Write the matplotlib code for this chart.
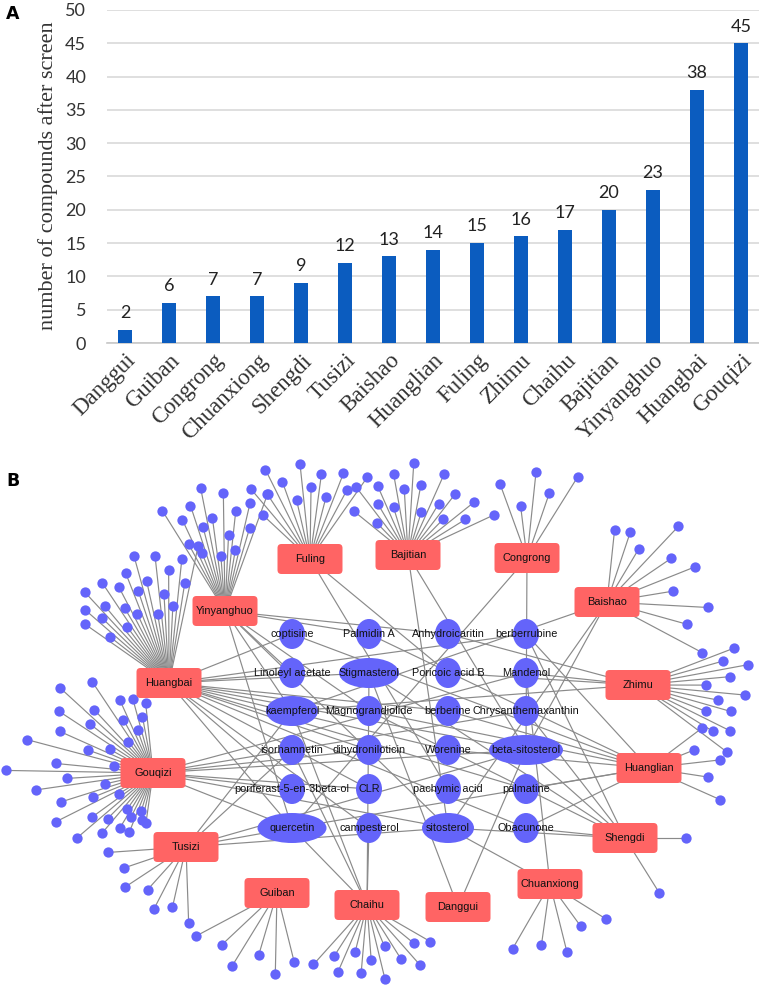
import numpy as np
import matplotlib
matplotlib.use('Agg')
import matplotlib.pyplot as plt
from matplotlib.patches import Ellipse, FancyBboxPatch
from matplotlib.collections import LineCollection

# ---- panel A data ----
herbs = ['Danggui', 'Guiban', 'Congrong', 'Chuanxiong', 'Shengdi', 'Tusizi', 'Baishao',
         'Huanglian', 'Fuling', 'Zhimu', 'Chaihu', 'Bajitian', 'Yinyanghuo', 'Huangbai', 'Gouqizi']
n_compounds = [2, 6, 7, 7, 9, 12, 13, 14, 15, 16, 17, 20, 23, 38, 45]

# ---- panel B data: shared compounds (grid rows) and herb -> compound links ----
compound_rows = [
    ['coptisine', 'Palmidin A', 'Anhydroicaritin', 'berberrubine'],
    ['Linoleyl acetate', 'Stigmasterol', 'Poricoic acid B', 'Mandenol'],
    ['kaempferol', 'Magnograndiolide', 'berberine', 'Chrysanthemaxanthin'],
    ['isorhamnetin', 'dihydroniloticin', 'Worenine', 'beta-sitosterol'],
    ['poriferast-5-en-3beta-ol', 'CLR', 'pachymic acid', 'palmatine'],
    ['quercetin', 'campesterol', 'sitosterol', 'Obacunone'],
]
shared = {
    'Danggui': ['Stigmasterol', 'beta-sitosterol'],
    'Guiban': [],
    'Congrong': ['beta-sitosterol', 'quercetin'],
    'Chuanxiong': ['Mandenol', 'sitosterol'],
    'Shengdi': ['beta-sitosterol', 'Stigmasterol', 'sitosterol', 'Chrysanthemaxanthin',
                'Obacunone', 'berberrubine', 'Magnograndiolide'],
    'Tusizi': ['quercetin', 'kaempferol', 'isorhamnetin', 'beta-sitosterol', 'sitosterol'],
    'Baishao': ['kaempferol', 'beta-sitosterol', 'sitosterol'],
    'Huanglian': ['berberine', 'palmatine', 'coptisine', 'Worenine', 'berberrubine',
                  'Obacunone', 'quercetin', 'Magnograndiolide', 'Palmidin A'],
    'Fuling': ['pachymic acid', 'Poricoic acid B'],
    'Zhimu': ['Anhydroicaritin', 'Mandenol', 'Poricoic acid B', 'kaempferol'],
    'Chaihu': ['quercetin', 'kaempferol', 'isorhamnetin', 'Stigmasterol', 'campesterol'],
    'Bajitian': ['beta-sitosterol', 'sitosterol'],
    'Yinyanghuo': ['quercetin', 'kaempferol', 'Anhydroicaritin', 'Linoleyl acetate',
                   'Magnograndiolide', 'Palmidin A', 'sitosterol'],
    'Huangbai': ['berberine', 'palmatine', 'coptisine', 'Worenine', 'berberrubine', 'Obacunone',
                 'Magnograndiolide', 'beta-sitosterol', 'Stigmasterol', 'campesterol',
                 'poriferast-5-en-3beta-ol', 'dihydroniloticin', 'Linoleyl acetate', 'CLR',
                 'quercetin'],
    'Gouqizi': ['quercetin', 'beta-sitosterol', 'sitosterol', 'CLR', 'Mandenol',
                'Chrysanthemaxanthin', 'poriferast-5-en-3beta-ol', 'dihydroniloticin'],
}

# ---- network layout (pixel space of the figure) ----
herb_pos = {
    'Fuling': (310, 559), 'Yinyanghuo': (225, 611), 'Huangbai': (169, 683),
    'Bajitian': (408, 555), 'Congrong': (527, 558), 'Baishao': (607, 602),
    'Zhimu': (638, 685), 'Gouqizi': (153, 773), 'Tusizi': (186, 847),
    'Guiban': (277, 893), 'Chaihu': (367, 905), 'Danggui': (458, 907),
    'Chuanxiong': (550, 884), 'Shengdi': (625, 838), 'Huanglian': (649, 768),
}
grid_x = [292, 369, 448, 526]
grid_y = [634, 673, 711, 750, 789, 828]
wide = {'Stigmasterol': 60, 'kaempferol': 52, 'beta-sitosterol': 74,
        'quercetin': 69, 'sitosterol': 52}
# leaf fan: start angle, end angle (deg, y up), min radius, (angle, max radius) control points
fans = {
    'Fuling': (55, 137, 60, [(55, 100), (137, 100)]),
    'Yinyanghuo': (70, 122, 55, [(70, 125), (122, 125)]),
    'Huangbai': (78, 145, 70, [(78, 140), (145, 120)]),
    'Gouqizi': (96, 262, 40, [(96, 70), (125, 120), (180, 148), (262, 50)]),
    'Tusizi': (184, 272, 55, [(184, 78), (272, 78)]),
    'Guiban': (208, 284, 62, [(208, 92), (284, 92)]),
    'Chaihu': (228, 330, 45, [(228, 80), (330, 80)]),
    'Chuanxiong': (240, 328, 50, [(240, 75), (328, 75)]),
    'Shengdi': (-58, 0, 58, [(-58, 65), (0, 65)]),
    'Huanglian': (-24, 37, 45, [(-24, 78), (37, 78)]),
    'Zhimu': (-37, 21, 68, [(-37, 112), (21, 112)]),
    'Baishao': (-28, 84, 62, [(-28, 108), (40, 115), (84, 72)]),
    'Bajitian': (25, 141, 45, [(25, 95), (141, 90)]),
    'Congrong': (58, 110, 47, [(58, 96), (110, 96)]),
    'Danggui': (0, 0, 0, [(0, 0), (1, 0)]),
}
radial = [1.0, 0.45, 0.8, 0.1, 0.65, 0.3, 0.9, 0.0, 0.55]

W, H = 759, 992
fig = plt.figure(figsize=(W / 100, H / 100), dpi=100)

# ================= A: bar chart =================
ax = fig.add_axes([107 / W, 1 - 343 / H, 652 / W, 333 / H])
x = np.arange(len(herbs))
ax.bar(x, n_compounds, width=0.33, color='#0b5cbf', zorder=3)
for xi, v in zip(x, n_compounds):
    ax.text(xi, v + 1.3, str(v), ha='center', va='bottom', fontsize=13,
            family='Lato', color='#222222')
ax.set_xlim(-0.41, 14.41)
ax.set_ylim(0, 50)
ax.set_yticks(range(0, 51, 5))
ax.yaxis.grid(True, color='#d9d9d9', lw=1.2, zorder=0)
for s in ['top', 'right', 'left']:
    ax.spines[s].set_visible(False)
ax.spines['bottom'].set_color('#c8c8c8')
ax.spines['bottom'].set_linewidth(1.2)
ax.tick_params(axis='both', length=0)
ax.tick_params(axis='y', pad=15, labelsize=13, labelcolor='#333333')
for lab in ax.get_yticklabels():
    lab.set_family('Lato')
ax.set_xticks(x)
ax.set_xticklabels(herbs, rotation=45, ha='right', va='top', rotation_mode='anchor',
                   family='Liberation Serif', fontsize=16.5, color='#333333')
ax.tick_params(axis='x', pad=5)
fig.text(48 / W, 1 - 176 / H, 'number of compounds after screen', rotation=90,
         ha='center', va='center', family='Liberation Serif', fontsize=16, color='#333333')
fig.text(13 / W, 1 - 14 / H, 'A', ha='center', va='center', fontsize=12.5, weight='bold')

# ================= B: network =================
nx = fig.add_axes([0, 0, 1, 1])
nx.set_xlim(0, W)
nx.set_ylim(H, 0)
nx.axis('off')
nx.patch.set_alpha(0)

comp_pos = {}
for r, row in enumerate(compound_rows):
    for c, name in enumerate(row):
        comp_pos[name] = (grid_x[c], grid_y[r])

segs = []
leaves = []
for h, total in zip(herbs, n_compounds):
    hx, hy = herb_pos[h]
    for comp in shared[h]:
        segs.append([(hx, hy), comp_pos[comp]])
    n_leaf = total - len(shared[h])
    if n_leaf <= 0:
        continue
    a0, a1, rmin, ctrl = fans[h]
    ca, cr = zip(*ctrl)
    angs = np.linspace(a0, a1, n_leaf)
    for i, a in enumerate(angs):
        rmax = np.interp(a, ca, cr)
        rr = rmin + (rmax - rmin) * radial[i % len(radial)]
        t = np.radians(a)
        lx, ly = hx + rr * np.cos(t), hy - rr * np.sin(t)
        segs.append([(hx, hy), (lx, ly)])
        leaves.append((lx, ly))

nx.add_collection(LineCollection(segs, colors='#8a8a8a', linewidths=0.85, zorder=1))
leaves = np.array(leaves)
nx.scatter(leaves[:, 0], leaves[:, 1], s=55, color='#6464fa', lw=0, zorder=2)

for name, (cx, cy) in comp_pos.items():
    nx.add_patch(Ellipse((cx, cy), wide.get(name, 26), 30, facecolor='#6464fa',
                         edgecolor='none', zorder=2))
    nx.text(cx, cy, name, ha='center', va='center', fontsize=7.8,
            family='Liberation Sans', color='#111111', zorder=4)

for h, (hx, hy) in herb_pos.items():
    nx.add_patch(FancyBboxPatch((hx - 32.5, hy - 15), 65, 30,
                                boxstyle='round,pad=0,rounding_size=4',
                                facecolor='#ff6464', edgecolor='none', zorder=3))
    nx.text(hx, hy, h, ha='center', va='center', fontsize=7.9,
            family='Liberation Sans', color='#111111', zorder=4)

fig.text(13 / W, 1 - 481 / H, 'B', ha='center', va='center', fontsize=12.5, weight='bold')

fig.savefig('out.png', dpi=100)
